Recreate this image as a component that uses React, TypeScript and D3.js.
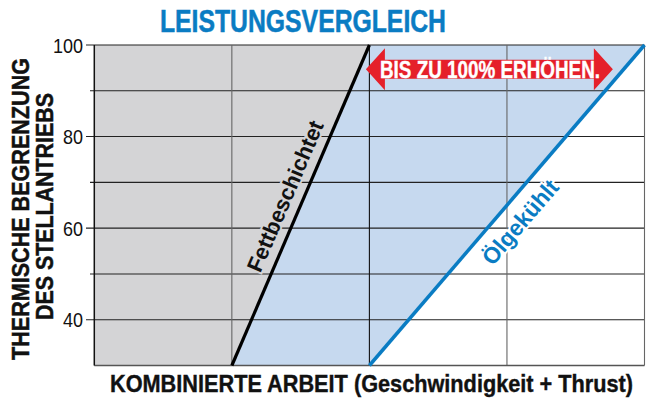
import React from "react";
import * as d3 from "d3";

const xDomain = [0, 4];
const yDomain = [30, 100];
const xGrid = [1, 2, 3, 4];
const yGrid = [40, 50, 60, 70, 80, 90, 100];
const yTickLabels = [40, 60, 80, 100];
const greaseLine = [
  { x: 1, y: 30 },
  { x: 2, y: 100 },
];
const oilLine = [
  { x: 2, y: 30 },
  { x: 4, y: 100 },
];
const arrowSpan = { x0: 2, x1: 3.77, y: 94.8 };

const title = "LEISTUNGSVERGLEICH";
const yTitle1 = "THERMISCHE BEGRENZUNG";
const yTitle2 = "DES STELLANTRIEBS";
const xTitle = "KOMBINIERTE ARBEIT (Geschwindigkeit + Thrust)";
const arrowText = "BIS ZU 100% ERHÖHEN.";
const greaseText = "Fettbeschichtet";
const oilText = "Ölgekühlt";

const FONT = "'Liberation Sans Narrow', 'Arial Narrow', 'Liberation Sans', Arial, sans-serif";
const BLUE = "#0a7cc3";
const GRAY_FILL = "#d4d4d6";
const LIGHT_BLUE = "#c6d9ef";
const RED = "#e5202a";

export default function App() {
  const W = 647;
  const H = 400;
  const x = d3.scaleLinear().domain(xDomain).range([94.3, 644.5]);
  const y = d3.scaleLinear().domain(yDomain).range([365.5, 45]);

  const poly = (pts: { x: number; y: number }[]) =>
    d3.line<{ x: number; y: number }>().x((d) => x(d.x)).y((d) => y(d.y))(pts) + "Z";
  const line = d3.line<{ x: number; y: number }>().x((d) => x(d.x)).y((d) => y(d.y));

  const grayRegion = [
    { x: xDomain[0], y: yDomain[0] },
    greaseLine[0],
    greaseLine[1],
    { x: xDomain[0], y: yDomain[1] },
  ];
  const blueRegion = [greaseLine[0], oilLine[0], oilLine[1], greaseLine[1]];

  const ax0 = x(arrowSpan.x0) - 3.5;
  const ax1 = x(arrowSpan.x1);
  const ay = y(arrowSpan.y) + 0.5;
  const headW = 19;
  const headH = 21;
  const bodyH = 9.5;
  const arrowPath = [
    [ax0, ay],
    [ax0 + headW, ay - headH],
    [ax0 + headW, ay - bodyH],
    [ax1 - headW, ay - bodyH],
    [ax1 - headW, ay - headH],
    [ax1, ay],
    [ax1 - headW, ay + headH],
    [ax1 - headW, ay + bodyH],
    [ax0 + headW, ay + bodyH],
    [ax0 + headW, ay + headH],
  ];
  const arrowD = "M" + arrowPath.map((p) => p.join(",")).join("L") + "Z";

  const gAngle =
    (Math.atan2(y(greaseLine[1].y) - y(greaseLine[0].y), x(greaseLine[1].x) - x(greaseLine[0].x)) * 180) /
    Math.PI;
  const oAngle =
    (Math.atan2(y(oilLine[1].y) - y(oilLine[0].y), x(oilLine[1].x) - x(oilLine[0].x)) * 180) / Math.PI;

  return (
    <svg
      width={W}
      height={H}
      style={{ position: "absolute", left: 0, top: 0, background: "#fff" }}
      fontFamily={FONT}
    >
      <path d={poly(grayRegion)} fill={GRAY_FILL} />
      <path d={poly(blueRegion)} fill={LIGHT_BLUE} />

      {yGrid.map((v) => (
        <line
          key={"h" + v}
          x1={yTickLabels.includes(v) ? 86 : 90}
          x2={x(xDomain[1])}
          y1={y(v)}
          y2={y(v)}
          stroke="#222"
          strokeWidth={1.1}
        />
      ))}
      {xGrid.map((v) => (
        <line
          key={"v" + v}
          x1={x(v)}
          x2={x(v)}
          y1={y(yDomain[0])}
          y2={y(yDomain[1])}
          stroke={v === 2 ? "#111" : "#666"}
          strokeWidth={1.1}
        />
      ))}
      <line x1={x(0)} x2={x(4)} y1={y(30)} y2={y(30)} stroke="#555" strokeWidth={1.5} />
      <line x1={x(0)} x2={x(0)} y1={y(30)} y2={y(100)} stroke="#111" strokeWidth={1.5} />

      {yTickLabels.map((v) => (
        <text
          key={"t" + v}
          x={83}
          y={y(v) + 7.5}
          textAnchor="end"
          fontSize={21}
          fill="#111"
          textLength={String(v).length * 10}
          lengthAdjust="spacingAndGlyphs"
        >
          {v}
        </text>
      ))}

      <path d={line(greaseLine) || ""} stroke="#000" strokeWidth={3.2} fill="none" />
      <path d={line(oilLine) || ""} stroke={BLUE} strokeWidth={3.5} fill="none" />

      <g transform={`translate(285,196) rotate(${gAngle})`}>
        <text
          textAnchor="middle"
          dy="0.36em"
          fontSize={22}
          fontWeight="bold"
          fill="#111"
          stroke={GRAY_FILL}
          strokeWidth={4}
          paintOrder="stroke"
          textLength={162}
          lengthAdjust="spacingAndGlyphs"
        >
          {greaseText}
        </text>
      </g>
      <g transform={`translate(520,222) rotate(${oAngle})`}>
        <text
          textAnchor="middle"
          dy="0.36em"
          fontSize={23}
          fontWeight="bold"
          fill={BLUE}
          stroke="#fff"
          strokeWidth={4}
          paintOrder="stroke"
          textLength={104}
          lengthAdjust="spacingAndGlyphs"
        >
          {oilText}
        </text>
      </g>

      <path d={arrowD} fill={RED} />
      <text
        x={(380 + 600) / 2}
        y={ay + 8.8}
        textAnchor="middle"
        fontSize={23}
        fontWeight="bold"
        fill="#fff"
        stroke="#fff"
        strokeWidth={0.4}
        textLength={220}
        lengthAdjust="spacingAndGlyphs"
      >
        {arrowText}
      </text>

      <text
        x={303}
        y={32}
        textAnchor="middle"
        fontSize={30.5}
        fontWeight="bold"
        fill={BLUE}
        stroke={BLUE}
        strokeWidth={0.5}
        textLength={286}
        lengthAdjust="spacingAndGlyphs"
      >
        {title}
      </text>

      <text
        transform="translate(28.5,209) rotate(-90)"
        textAnchor="middle"
        fontSize={23}
        fontWeight="bold"
        fill="#111"
        stroke="#111"
        strokeWidth={0.5}
        textLength={302}
        lengthAdjust="spacingAndGlyphs"
      >
        {yTitle1}
      </text>
      <text
        transform="translate(52.5,206.5) rotate(-90)"
        textAnchor="middle"
        fontSize={23}
        fontWeight="bold"
        fill="#111"
        stroke="#111"
        strokeWidth={0.5}
        textLength={227}
        lengthAdjust="spacingAndGlyphs"
      >
        {yTitle2}
      </text>

      <text
        x={(110 + 633) / 2}
        y={392}
        textAnchor="middle"
        fontSize={24}
        fontWeight="bold"
        fill="#111"
        stroke="#111"
        strokeWidth={0.4}
        textLength={523}
        lengthAdjust="spacingAndGlyphs"
      >
        {xTitle}
      </text>
    </svg>
  );
}
